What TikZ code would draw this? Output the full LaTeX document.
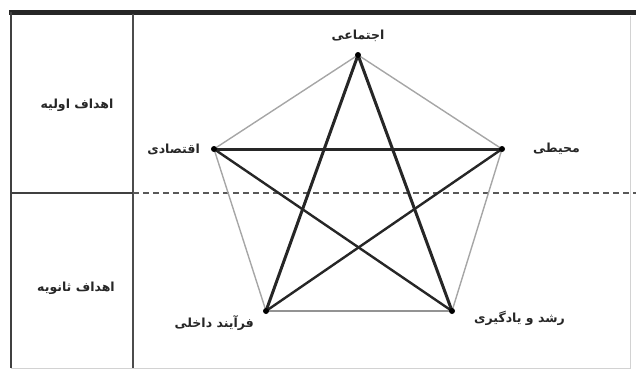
\documentclass[tikz,border=0pt]{standalone}
\usepackage{fontspec}
\newfontfamily\arabicfont[Script=Arabic]{DejaVu Sans}
\TeXXeTstate=1
\usetikzlibrary{positioning}

\begin{document}
\begin{tikzpicture}[
 x=1pt,y=-1pt,
 lbl/.style={font=\arabicfont\bfseries\fontsize{12.5}{14}\selectfont,inner sep=1pt,text=black!85},
 edge/.style={draw=gray!70,line width=1.4pt},
 star/.style={draw=black!85,line width=3pt},
 divider/.style={draw=black!75,line width=1.6pt},
 rim/.style={draw=gray!35,line width=1pt}
]
\useasboundingbox (0,0) rectangle (636,376);
% frame and dividers
\draw[rim] (11,368) -- (630,368) -- (630,16);
\draw[draw=black!85,line width=5pt] (9,12) -- (636,12);
\draw[divider] (11,12) -- (11,368);
\draw[draw=gray!60!black,line width=2pt] (133,14) -- (133,368);
\draw[divider] (11,193) -- (133,193);
\draw[draw=gray!70!black,line width=1.8pt,dash pattern=on 6pt off 4pt] (133,193) -- (636,193);
% vertices
\coordinate (soc) at (358,55);
\coordinate (eco) at (214,149);
\coordinate (env) at (502,149);
\coordinate (proc) at (266,311);
\coordinate (grow) at (452,311);
% pentagon
\draw[edge] (soc) -- (env) -- (grow);
\draw[edge] (soc) -- (eco) -- (proc);
\draw[edge,draw=gray!85,line width=2pt] (proc) -- (grow);
% star
\draw[star] (eco) -- (env);
\draw[star] (soc) -- (proc);
\draw[star] (soc) -- (grow);
\draw[star,line width=2.4pt] (eco) -- (grow);
\draw[star,line width=2.4pt] (env) -- (proc);
\foreach \v in {soc,eco,env,proc,grow}
  \fill[black] (\v) circle (3pt);
% labels
\node[lbl,above=12pt of soc] (socl) {\beginR اجتماعی\endR};
\node[lbl,left=13pt of eco] (ecol) {\beginR اقتصادی\endR};
\node[lbl,right=30pt of env] (envl) {\beginR محیطی\endR};
\node[lbl,below left=3pt and 11pt of proc] (procl) {\beginR فرآیند داخلی\endR};
\node[lbl,below right=-1pt and 21pt of grow] (growl) {\beginR رشد و یادگیری\endR};
\node[lbl] (prim) at (77,105) {\beginR اهداف اولیه\endR};
\node[lbl] (sec) at (76,288) {\beginR اهداف ثانویه\endR};
\end{tikzpicture}
\end{document}
